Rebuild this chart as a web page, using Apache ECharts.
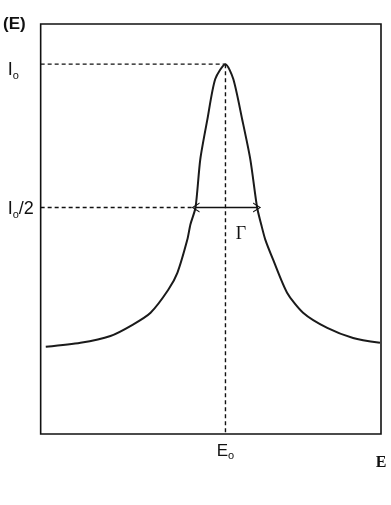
<!DOCTYPE html>
<html>
<head>
<meta charset="utf-8">
<script src="https://cdn.jsdelivr.net/npm/echarts@6/dist/echarts.min.js"></script>
<style>
  html, body { margin: 0; padding: 0; background: #fff; }
  #chart { width: 391px; height: 505px; }
</style>
</head>
<body>
<div id="chart"></div>
<script>
// curve (energy in arbitrary units, intensity scaled so I0 = 1)
const energy    = [1.5, 11.7, 20.5, 27.0, 32.3, 37.5, 40.2, 43.1, 44.0, 45.5, 46.9, 49.0, 51.3, 54.3,
                   56.6, 59.2, 61.6, 63.6, 64.8, 66.0, 68.3, 72.4, 77.1, 84.2, 91.8, 99.7];
const intensity = [0.014, 0.028, 0.052, 0.091, 0.133, 0.213, 0.273, 0.388, 0.441, 0.500, 0.668, 0.808, 0.948, 1.0,
                   0.948, 0.808, 0.668, 0.500, 0.441, 0.388, 0.318, 0.203, 0.133, 0.080, 0.045, 0.028];

const E0 = 54.3;          // peak position
const I0 = 1.0;           // peak height
const halfLeft  = 45.5;   // FWHM crossings
const halfRight = 63.6;
const xRange = [0, 100];
const yRange = [-0.29, 1.14];

const chevron = 'path://M5,0 L10,10 L8.8,10 L5,2.4 L1.2,10 L0,10 Z';
const dash = { color: '#111', width: 1.4, type: [4, 3] };
const ink = '#111';
// main letter + subscript, pushed down by pad px
const mainTok = pad => ({ fontSize: 18, fontFamily: 'Liberation Sans', color: ink,
  lineHeight: 20 + pad, verticalAlign: 'top', padding: [pad, 0, 0, 0] });
const subTok = () => ({ fontSize: 11, fontFamily: 'Liberation Sans', color: ink, lineHeight: 8, verticalAlign: 'bottom' });

const chart = echarts.init(document.getElementById('chart'));
chart.setOption({
  animation: false,
  backgroundColor: '#fff',
  grid: { left: 40, right: 10, top: 24, bottom: 71, show: true, borderColor: ink, borderWidth: 1.6 },
  xAxis: {
    type: 'value', min: xRange[0], max: xRange[1],
    axisLine: { show: false }, axisTick: { show: false }, splitLine: { show: false },
    axisLabel: {
      customValues: [E0], margin: 9,
      formatter: () => '{m|E}{s|o}',
      rich: {
        m: { fontSize: 17, fontFamily: 'Liberation Sans', color: ink, lineHeight: 18, verticalAlign: 'top' },
        s: subTok()
      }
    }
  },
  yAxis: {
    type: 'value', min: yRange[0], max: yRange[1],
    axisLine: { show: false }, axisTick: { show: false }, splitLine: { show: false },
    axisLabel: {
      customValues: [I0 / 2, I0], margin: 33, align: 'left',
      formatter: v => v === I0 ? '{a|I}{s|o}' : '{c|I}{s|o}{c|/2}',
      rich: { a: mainTok(14), c: mainTok(6), s: subTok() }
    },
    name: '(E)', nameLocation: 'end', nameGap: 0,
    nameTextStyle: { fontFamily: 'Liberation Sans', fontWeight: 'bold', fontSize: 17, color: ink,
                     align: 'right', verticalAlign: 'middle', padding: [12, 15, 0, 0] }
  },
  graphic: [
    { type: 'text', x: 381, y: 463, style: { text: 'E', fontFamily: 'Liberation Serif', fontWeight: 'bold',
      fontSize: 16, fill: ink, align: 'center', verticalAlign: 'middle' } },
    { type: 'text', x: 241, y: 234, style: { text: 'Γ', fontFamily: 'Liberation Serif',
      fontSize: 18, fill: ink, align: 'center', verticalAlign: 'middle' } }
  ],
  series: [
    {
      type: 'line', data: [[xRange[0], I0], [E0, I0]],
      symbol: 'none', lineStyle: dash, silent: true
    },
    {
      type: 'line', data: [[xRange[0], I0 / 2], [halfLeft, I0 / 2]],
      symbol: 'none', lineStyle: dash, silent: true
    },
    {
      type: 'line', data: [[E0, I0], [E0, yRange[0]]],
      symbol: 'none', lineStyle: dash, silent: true,
      markLine: {
        silent: true,
        symbol: [chevron, chevron], symbolSize: [10, 8],
        lineStyle: { color: ink, width: 1.4, type: 'solid' },
        label: { show: false },
        data: [[{ coord: [halfLeft, I0 / 2] }, { coord: [halfRight, I0 / 2] }]]
      }
    },
    {
      type: 'line', data: energy.map((e, i) => [e, intensity[i]]),
      symbol: 'none', smooth: 0.25,
      lineStyle: { color: '#1a1a1a', width: 2 }
    }
  ]
});
</script>
</body>
</html>
